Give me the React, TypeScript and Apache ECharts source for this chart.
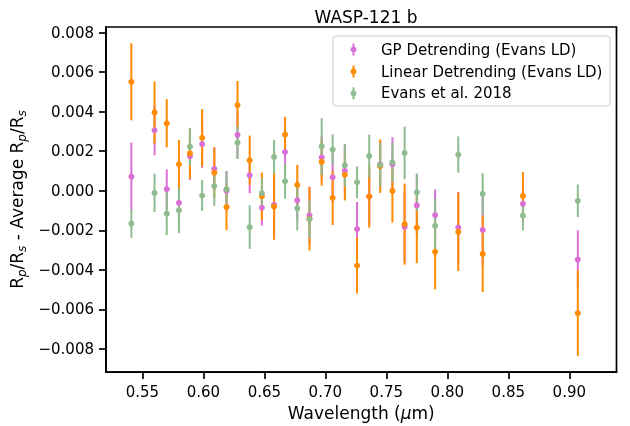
import React, { useEffect, useRef } from "react";
import * as echarts from "echarts";

const wavelengths = [0.541, 0.560, 0.570, 0.580, 0.589, 0.599, 0.609, 0.619, 0.628, 0.638, 0.648, 0.658, 0.667, 0.677, 0.687, 0.697, 0.706, 0.716, 0.726, 0.736, 0.745, 0.755, 0.765, 0.775, 0.790, 0.809, 0.829, 0.862, 0.907];

const gpValues = [0.00071, 0.00306, 0.00008, -0.00061, 0.00174, 0.00236, 0.00111, 0.00000, 0.00283, 0.00078, -0.00086, -0.00071, 0.00196, -0.00049, -0.00124, 0.00169, 0.00068, 0.00100, -0.00194, -0.00029, 0.00134, 0.00134, -0.00183, -0.00074, -0.00123, -0.00186, -0.00198, -0.00066, -0.00348];
const gpErrors = [0.00172, 0.00127, 0.00100, 0.00110, 0.00120, 0.00120, 0.00110, 0.00100, 0.00120, 0.00090, 0.00090, 0.00150, 0.00120, 0.00100, 0.00145, 0.00110, 0.00130, 0.00135, 0.00137, 0.00140, 0.00120, 0.00137, 0.00180, 0.00155, 0.00130, 0.00180, 0.00180, 0.00100, 0.00148];

const linValues = [0.00551, 0.00396, 0.00341, 0.00134, 0.00189, 0.00268, 0.00091, -0.00083, 0.00433, 0.00154, -0.00028, -0.00080, 0.00284, 0.00029, -0.00142, 0.00146, -0.00036, 0.00081, -0.00378, -0.00029, 0.00124, -0.00001, -0.00169, -0.00186, -0.00309, -0.00208, -0.00319, -0.00026, -0.00619];
const linErrors = [0.00195, 0.00157, 0.00122, 0.00123, 0.00127, 0.00145, 0.00127, 0.00117, 0.00122, 0.00125, 0.00120, 0.00168, 0.00090, 0.00102, 0.00160, 0.00120, 0.00137, 0.00130, 0.00142, 0.00158, 0.00135, 0.00160, 0.00205, 0.00180, 0.00190, 0.00198, 0.00193, 0.00120, 0.00217];

const evansValues = [-0.00166, -0.00011, -0.00116, -0.00099, 0.00223, -0.00024, 0.00024, 0.00008, 0.00243, -0.00184, -0.00012, 0.00171, 0.00048, -0.00089, -0.00144, 0.00224, 0.00208, 0.00128, 0.00043, 0.00176, 0.00131, 0.00144, 0.00191, -0.00008, -0.00178, 0.00183, -0.00016, -0.00126, -0.00051];
const evansErrors = [0.00072, 0.00097, 0.00108, 0.00115, 0.00095, 0.00078, 0.00100, 0.00090, 0.00082, 0.00110, 0.00075, 0.00085, 0.00088, 0.00112, 0.00095, 0.00143, 0.00077, 0.00107, 0.00080, 0.00108, 0.00110, 0.00100, 0.00133, 0.00095, 0.00137, 0.00092, 0.00105, 0.00075, 0.00082];

const xTicks = [0.55, 0.60, 0.65, 0.70, 0.75, 0.80, 0.85, 0.90];
const yTicks = [-0.008, -0.006, -0.004, -0.002, 0, 0.002, 0.004, 0.006, 0.008];

const seriesNames = ["GP Detrending (Evans LD)", "Linear Detrending (Evans LD)", "Evans et al. 2018"];
const seriesColors = ["#DA70D6", "#FF8C00", "#8FBC8F"];

const FONT = "DejaVu Sans";

function fmtY(v: number) {
  if (Math.abs(v) < 1e-12) return "0.000";
  return (v < 0 ? "\u2212" : "") + Math.abs(v).toFixed(3);
}

function legendGraphic() {
  const left = 333;
  const top = 36;
  const width = 277;
  const height = 70;
  const rows = [49.5, 71.5, 93.3];
  const children: any[] = [
    {
      type: "rect",
      shape: { x: left, y: top, width, height, r: 3 },
      style: { fill: "rgba(255,255,255,0.8)", stroke: "#cccccc", lineWidth: 1 },
    },
  ];
  seriesNames.forEach((name, i) => {
    const cy = rows[i];
    children.push({
      type: "line",
      shape: { x1: 353.5, y1: cy - 6, x2: 353.5, y2: cy + 6 },
      style: { stroke: seriesColors[i], lineWidth: 2 },
    });
    children.push({
      type: "circle",
      shape: { cx: 353.5, cy, r: 3 },
      style: { fill: seriesColors[i] },
    });
    children.push({
      type: "text",
      x: 381,
      y: cy,
      style: { text: name, fontFamily: FONT, fontSize: 15, fill: "#000", verticalAlign: "middle", align: "left" },
    });
  });
  return [{ type: "group", z: 100, silent: true, children }];
}

export default function App() {
  const ref = useRef<HTMLDivElement>(null);
  useEffect(() => {
    if (!ref.current) return;
    const chart = echarts.init(ref.current, null, { renderer: "svg" });
    const values = [gpValues, linValues, evansValues];
    const errors = [gpErrors, linErrors, evansErrors];

    const barSeries = values.map((vals, s) => ({
      name: seriesNames[s],
      type: "custom",
      z: 2,
      silent: true,
      itemStyle: { color: seriesColors[s] },
      data: wavelengths.map((w, i) => [w, vals[i], errors[s][i]]),
      renderItem: (params: any, api: any) => {
        const x = api.value(0);
        const y = api.value(1);
        const e = api.value(2);
        const p1 = api.coord([x, y - e]);
        const p2 = api.coord([x, y + e]);
        return {
          type: "line",
          shape: { x1: p1[0], y1: p1[1], x2: p2[0], y2: p2[1] },
          style: { stroke: seriesColors[s], lineWidth: 2 },
        };
      },
    }));

    const pointSeries = values.map((vals, s) => ({
      name: seriesNames[s],
      type: "scatter",
      z: 3,
      silent: true,
      symbol: "circle",
      symbolSize: 6,
      itemStyle: { color: seriesColors[s], opacity: 1 },
      emphasis: { disabled: true },
      data: wavelengths.map((w, i) => [w, vals[i]]),
    }));

    chart.setOption({
      animation: false,
      textStyle: { fontFamily: FONT },
      title: {
        text: "WASP-121 b",
        left: 361,
        textAlign: "center",
        top: 3,
        textStyle: { fontFamily: FONT, fontSize: 17, fontWeight: "normal", color: "#000" },
      },
      graphic: legendGraphic(),
      grid: {
        left: 106,
        top: 27,
        width: 510.5,
        height: 350,
        show: true,
        borderColor: "#000",
        borderWidth: 1.7,
        backgroundColor: "transparent",
      },
      xAxis: {
        type: "value",
        min: 0.5202,
        max: 0.9387,
        name: "{n|Wavelength (}{it|\u03bc}{n|m)}",
        nameLocation: "middle",
        nameGap: 27,
        nameTextStyle: {
          fontFamily: FONT,
          fontSize: 17,
          color: "#000",
          rich: {
            n: { fontFamily: FONT, fontSize: 17, color: "#000" },
            it: { fontFamily: FONT, fontSize: 17, color: "#000", fontStyle: "italic" },
          },
        },
        axisLine: { show: true, onZero: false, lineStyle: { color: "#000", width: 1.7 } },
        axisTick: { show: true, customValues: xTicks, length: 7, lineStyle: { color: "#000", width: 1.7 } },
        axisLabel: {
          customValues: xTicks,
          formatter: (v: number) => v.toFixed(2),
          fontFamily: FONT,
          fontSize: 15,
          color: "#000",
          margin: 12,
        },
        splitLine: { show: false },
      },
      yAxis: {
        type: "value",
        min: -0.00917,
        max: 0.00828,
        name: "{r|R}{sub|p}{r|/R}{sub|s}{r| - Average R}{sub|p}{r|/R}{sub|s}",
        nameLocation: "middle",
        nameRotate: 90,
        nameGap: 72,
        nameTextStyle: {
          fontFamily: FONT,
          fontSize: 17,
          color: "#000",
          rich: {
            r: { fontFamily: FONT, fontSize: 17, color: "#000", lineHeight: 22, verticalAlign: "middle" },
            sub: { fontFamily: FONT, fontSize: 12, color: "#000", fontStyle: "italic", lineHeight: 12, verticalAlign: "bottom" },
          },
        },
        axisLine: { show: true, onZero: false, lineStyle: { color: "#000", width: 1.7 } },
        axisTick: { show: true, customValues: yTicks, length: 7, lineStyle: { color: "#000", width: 1.7 } },
        axisLabel: {
          customValues: yTicks,
          formatter: fmtY,
          fontFamily: FONT,
          fontSize: 15,
          color: "#000",
          margin: 12,
        },
        splitLine: { show: false },
      },
      series: [...barSeries, ...pointSeries],
    });
    return () => chart.dispose();
  }, []);
  return <div ref={ref} style={{ position: "fixed", left: 0, top: 0, width: 630, height: 426 }} />;
}
